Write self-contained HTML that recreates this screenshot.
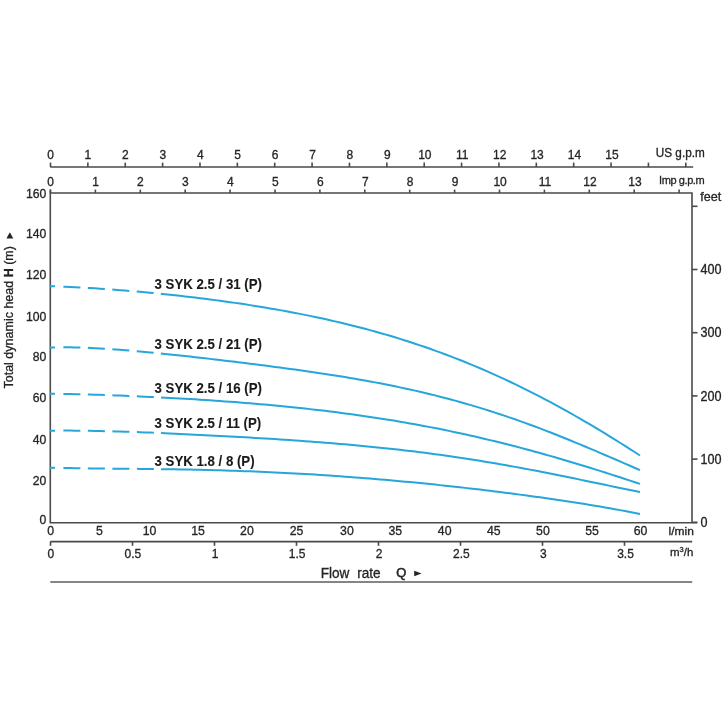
<!DOCTYPE html>
<html><head><meta charset="utf-8"><title>Pump performance curves 3 SYK</title>
<style>
html,body{margin:0;padding:0;background:#fff;}
svg{display:block;}
text{font-family:'Liberation Sans', Arial, sans-serif;fill:#252525;stroke:#252525;stroke-width:0.3px;font-size:12px;}
.m{text-anchor:middle;}
.e{text-anchor:end;}
.b{font-size:13.25px;font-weight:bold;fill:#1a1a1a;stroke:#1a1a1a;stroke-width:0.1px;}
</style></head><body>
<svg width="726" height="726" viewBox="0 0 726 726">
<rect width="726" height="726" fill="#fff"/>
<g stroke="#4a4a4a" stroke-width="1.6" fill="none">
<line x1="50.3" y1="167" x2="693.2" y2="167"/>
<line x1="50.50" y1="162.6" x2="50.50" y2="167"/>
<line x1="87.87" y1="162.6" x2="87.87" y2="167"/>
<line x1="125.24" y1="162.6" x2="125.24" y2="167"/>
<line x1="162.61" y1="162.6" x2="162.61" y2="167"/>
<line x1="199.98" y1="162.6" x2="199.98" y2="167"/>
<line x1="237.35" y1="162.6" x2="237.35" y2="167"/>
<line x1="274.72" y1="162.6" x2="274.72" y2="167"/>
<line x1="312.09" y1="162.6" x2="312.09" y2="167"/>
<line x1="349.46" y1="162.6" x2="349.46" y2="167"/>
<line x1="386.83" y1="162.6" x2="386.83" y2="167"/>
<line x1="424.20" y1="162.6" x2="424.20" y2="167"/>
<line x1="461.57" y1="162.6" x2="461.57" y2="167"/>
<line x1="498.94" y1="162.6" x2="498.94" y2="167"/>
<line x1="536.31" y1="162.6" x2="536.31" y2="167"/>
<line x1="573.68" y1="162.6" x2="573.68" y2="167"/>
<line x1="611.05" y1="162.6" x2="611.05" y2="167"/>
<line x1="648.42" y1="162.6" x2="648.42" y2="167"/>
<line x1="685.79" y1="162.6" x2="685.79" y2="167"/>
<line x1="50.50" y1="189.6" x2="50.50" y2="193"/>
<line x1="95.40" y1="189.6" x2="95.40" y2="193"/>
<line x1="140.30" y1="189.6" x2="140.30" y2="193"/>
<line x1="185.20" y1="189.6" x2="185.20" y2="193"/>
<line x1="230.10" y1="189.6" x2="230.10" y2="193"/>
<line x1="275.00" y1="189.6" x2="275.00" y2="193"/>
<line x1="319.90" y1="189.6" x2="319.90" y2="193"/>
<line x1="364.80" y1="189.6" x2="364.80" y2="193"/>
<line x1="409.70" y1="189.6" x2="409.70" y2="193"/>
<line x1="454.60" y1="189.6" x2="454.60" y2="193"/>
<line x1="499.50" y1="189.6" x2="499.50" y2="193"/>
<line x1="544.40" y1="189.6" x2="544.40" y2="193"/>
<line x1="589.30" y1="189.6" x2="589.30" y2="193"/>
<line x1="634.20" y1="189.6" x2="634.20" y2="193"/>
<line x1="679.10" y1="189.6" x2="679.10" y2="193"/>
<path d="M50.3,193 H692 V522.7 M50.3,189.6 V522.7 H697.2"/>
<line x1="692" y1="522.30" x2="697.5" y2="522.30"/>
<line x1="692" y1="459.10" x2="697.5" y2="459.10"/>
<line x1="692" y1="395.90" x2="697.5" y2="395.90"/>
<line x1="692" y1="332.70" x2="697.5" y2="332.70"/>
<line x1="692" y1="269.50" x2="697.5" y2="269.50"/>
<line x1="692" y1="206.30" x2="697.5" y2="206.30"/>
<line x1="50.3" y1="541.6" x2="692.2" y2="541.6"/>
<line x1="50.50" y1="541.6" x2="50.50" y2="545.8"/>
<line x1="132.50" y1="541.6" x2="132.50" y2="545.8"/>
<line x1="214.50" y1="541.6" x2="214.50" y2="545.8"/>
<line x1="296.50" y1="541.6" x2="296.50" y2="545.8"/>
<line x1="378.50" y1="541.6" x2="378.50" y2="545.8"/>
<line x1="460.50" y1="541.6" x2="460.50" y2="545.8"/>
<line x1="542.50" y1="541.6" x2="542.50" y2="545.8"/>
<line x1="624.50" y1="541.6" x2="624.50" y2="545.8"/>
<line x1="50.3" y1="582.1" x2="692.2" y2="582.1" stroke="#858585" stroke-width="2"/>
</g>
<g style="filter:grayscale(1)">
<text transform="translate(50.50,158.60) scale(1,1.07)" class="m">0</text>
<text transform="translate(87.93,158.60) scale(1,1.07)" class="m">1</text>
<text transform="translate(125.36,158.60) scale(1,1.07)" class="m">2</text>
<text transform="translate(162.79,158.60) scale(1,1.07)" class="m">3</text>
<text transform="translate(200.22,158.60) scale(1,1.07)" class="m">4</text>
<text transform="translate(237.65,158.60) scale(1,1.07)" class="m">5</text>
<text transform="translate(275.08,158.60) scale(1,1.07)" class="m">6</text>
<text transform="translate(312.51,158.60) scale(1,1.07)" class="m">7</text>
<text transform="translate(349.94,158.60) scale(1,1.07)" class="m">8</text>
<text transform="translate(387.37,158.60) scale(1,1.07)" class="m">9</text>
<text transform="translate(424.80,158.60) scale(1,1.07)" class="m">10</text>
<text transform="translate(462.23,158.60) scale(1,1.07)" class="m">11</text>
<text transform="translate(499.66,158.60) scale(1,1.07)" class="m">12</text>
<text transform="translate(537.09,158.60) scale(1,1.07)" class="m">13</text>
<text transform="translate(574.52,158.60) scale(1,1.07)" class="m">14</text>
<text transform="translate(611.95,158.60) scale(1,1.07)" class="m">15</text>
<text transform="translate(50.50,186.20) scale(1,1.07)" class="m">0</text>
<text transform="translate(95.46,186.20) scale(1,1.07)" class="m">1</text>
<text transform="translate(140.42,186.20) scale(1,1.07)" class="m">2</text>
<text transform="translate(185.38,186.20) scale(1,1.07)" class="m">3</text>
<text transform="translate(230.34,186.20) scale(1,1.07)" class="m">4</text>
<text transform="translate(275.30,186.20) scale(1,1.07)" class="m">5</text>
<text transform="translate(320.26,186.20) scale(1,1.07)" class="m">6</text>
<text transform="translate(365.22,186.20) scale(1,1.07)" class="m">7</text>
<text transform="translate(410.18,186.20) scale(1,1.07)" class="m">8</text>
<text transform="translate(455.14,186.20) scale(1,1.07)" class="m">9</text>
<text transform="translate(500.10,186.20) scale(1,1.07)" class="m">10</text>
<text transform="translate(545.06,186.20) scale(1,1.07)" class="m">11</text>
<text transform="translate(590.02,186.20) scale(1,1.07)" class="m">12</text>
<text transform="translate(634.98,186.20) scale(1,1.07)" class="m">13</text>
<text transform="translate(50.70,535.00) scale(1,1.07)" class="m" style="font-size:12.3px;">0</text>
<text transform="translate(99.40,535.00) scale(1,1.07)" class="m" style="font-size:12.3px;">5</text>
<text transform="translate(149.60,535.00) scale(1,1.07)" class="m" style="font-size:12.3px;">10</text>
<text transform="translate(198.00,535.00) scale(1,1.07)" class="m" style="font-size:12.3px;">15</text>
<text transform="translate(246.90,535.00) scale(1,1.07)" class="m" style="font-size:12.3px;">20</text>
<text transform="translate(296.50,535.00) scale(1,1.07)" class="m" style="font-size:12.3px;">25</text>
<text transform="translate(346.90,535.00) scale(1,1.07)" class="m" style="font-size:12.3px;">30</text>
<text transform="translate(395.30,535.00) scale(1,1.07)" class="m" style="font-size:12.3px;">35</text>
<text transform="translate(444.70,535.00) scale(1,1.07)" class="m" style="font-size:12.3px;">40</text>
<text transform="translate(493.80,535.00) scale(1,1.07)" class="m" style="font-size:12.3px;">45</text>
<text transform="translate(542.90,535.00) scale(1,1.07)" class="m" style="font-size:12.3px;">50</text>
<text transform="translate(592.00,535.00) scale(1,1.07)" class="m" style="font-size:12.3px;">55</text>
<text transform="translate(640.60,535.00) scale(1,1.07)" class="m" style="font-size:12.3px;">60</text>
<text transform="translate(50.80,558.00) scale(1,1.07)" class="m">0</text>
<text transform="translate(132.90,558.00) scale(1,1.07)" class="m">0.5</text>
<text transform="translate(215.00,558.00) scale(1,1.07)" class="m">1</text>
<text transform="translate(297.10,558.00) scale(1,1.07)" class="m">1.5</text>
<text transform="translate(379.20,558.00) scale(1,1.07)" class="m">2</text>
<text transform="translate(461.30,558.00) scale(1,1.07)" class="m">2.5</text>
<text transform="translate(543.40,558.00) scale(1,1.07)" class="m">3</text>
<text transform="translate(625.50,558.00) scale(1,1.07)" class="m">3.5</text>
<text transform="translate(46.40,524.40) scale(1,1.08)" class="e" style="font-size:12.2px;">0</text>
<text transform="translate(46.40,484.60) scale(1,1.08)" class="e" style="font-size:12.2px;">20</text>
<text transform="translate(46.40,443.50) scale(1,1.08)" class="e" style="font-size:12.2px;">40</text>
<text transform="translate(46.40,402.20) scale(1,1.08)" class="e" style="font-size:12.2px;">60</text>
<text transform="translate(46.40,361.20) scale(1,1.08)" class="e" style="font-size:12.2px;">80</text>
<text transform="translate(46.40,320.50) scale(1,1.08)" class="e" style="font-size:12.2px;">100</text>
<text transform="translate(46.40,279.40) scale(1,1.08)" class="e" style="font-size:12.2px;">120</text>
<text transform="translate(46.40,238.10) scale(1,1.08)" class="e" style="font-size:12.2px;">140</text>
<text transform="translate(46.40,197.80) scale(1,1.08)" class="e" style="font-size:12.2px;">160</text>
<text transform="translate(700.50,526.90) scale(1,1.1)" style="font-size:12.6px;">0</text>
<text transform="translate(700.50,463.70) scale(1,1.1)" style="font-size:12.6px;">100</text>
<text transform="translate(700.50,400.50) scale(1,1.1)" style="font-size:12.6px;">200</text>
<text transform="translate(700.50,337.30) scale(1,1.1)" style="font-size:12.6px;">300</text>
<text transform="translate(700.50,274.10) scale(1,1.1)" style="font-size:12.6px;">400</text>
<text transform="translate(700.30,200.90) scale(1,1.04)" style="font-size:12.6px;">feet</text>
<text transform="translate(655.80,157.00) scale(1,1.02)" style="font-size:11.75px;">US g.p.m</text>
<text transform="translate(659.00,184.30) scale(1,1.04)" style="font-size:11px;letter-spacing:-0.4px">Imp g.p.m</text>
<text transform="translate(668.6,535.0) scale(1.12,1)" style="font-size:10.7px">l/min</text>
<text x="670" y="555.7" style="font-size:11.5px">m<tspan style="font-size:7.5px" dy="-3.6">3</tspan><tspan dy="3.6">/h</tspan></text>
<text transform="translate(320.70,577.90) scale(1,1.06)" style="font-size:13.6px;word-spacing:4px">Flow rate</text>
<text x="396.20" y="577.30" style="font-size:12.9px;stroke-width:0.6px">Q</text>
<polygon points="414.2,570.7 414.2,576.3 421.6,573.5" fill="#252525"/>
<text transform="translate(12.5,388.5) rotate(-90) scale(1,1.04)" style="font-size:12.5px">Total dynamic head <tspan style="font-weight:bold">H</tspan> (m)</text>
<polygon points="6.4,238.4 13.3,238.4 9.85,232.2" fill="#252525"/>
</g>
<path d="M50.0,286.13 L55.0,286.30 L60.0,286.49 L65.0,286.70 L70.0,286.93 L75.0,287.17 L80.0,287.44 L85.0,287.72 L90.0,288.02 L95.0,288.33 L100.0,288.66 L105.0,289.01 L110.0,289.37 L115.0,289.74 L120.0,290.13 L125.0,290.54 L130.0,290.95 L135.0,291.38 L140.0,291.83 L145.0,292.29 L150.0,292.76 L155.0,293.24 L160.0,293.74 L165.0,294.25 L170.0,294.77 L175.0,295.31 L180.0,295.86 L185.0,296.43 L190.0,297.01 L195.0,297.60 L200.0,298.21 L205.0,298.83 L210.0,299.46 L215.0,300.12 L220.0,300.78 L225.0,301.47 L230.0,302.17 L235.0,302.88 L240.0,303.61 L245.0,304.36 L250.0,305.13 L255.0,305.92 L260.0,306.72 L265.0,307.54 L270.0,308.39 L275.0,309.25 L280.0,310.13 L285.0,311.04 L290.0,311.96 L295.0,312.91 L300.0,313.88 L305.0,314.88 L310.0,315.89 L315.0,316.93 L320.0,318.00 L325.0,319.09 L330.0,320.21 L335.0,321.35 L340.0,322.52 L345.0,323.72 L350.0,324.95 L355.0,326.20 L360.0,327.49 L365.0,328.80 L370.0,330.14 L375.0,331.52 L380.0,332.92 L385.0,334.36 L390.0,335.83 L395.0,337.33 L400.0,338.87 L405.0,340.44 L410.0,342.04 L415.0,343.68 L420.0,345.35 L425.0,347.05 L430.0,348.80 L435.0,350.58 L440.0,352.39 L445.0,354.24 L450.0,356.13 L455.0,358.06 L460.0,360.02 L465.0,362.03 L470.0,364.07 L475.0,366.14 L480.0,368.26 L485.0,370.41 L490.0,372.61 L495.0,374.84 L500.0,377.11 L505.0,379.42 L510.0,381.77 L515.0,384.16 L520.0,386.58 L525.0,389.05 L530.0,391.55 L535.0,394.09 L540.0,396.67 L545.0,399.28 L550.0,401.94 L555.0,404.63 L560.0,407.36 L565.0,410.12 L570.0,412.92 L575.0,415.75 L580.0,418.62 L585.0,421.53 L590.0,424.46 L595.0,427.43 L600.0,430.43 L605.0,433.47 L610.0,436.53 L615.0,439.62 L620.0,442.75 L625.0,445.90 L630.0,449.07 L635.0,452.27 L640.0,455.50" fill="none" stroke="#26a6da" stroke-width="2" stroke-dasharray="5 8.4 17 7.5 17 7.5 17 7.5 17 7.2 2000"/>
<path d="M50.0,347.50 L55.0,347.39 L60.0,347.33 L65.0,347.32 L70.0,347.35 L75.0,347.44 L80.0,347.56 L85.0,347.72 L90.0,347.92 L95.0,348.16 L100.0,348.42 L105.0,348.72 L110.0,349.04 L115.0,349.39 L120.0,349.76 L125.0,350.16 L130.0,350.57 L135.0,351.00 L140.0,351.45 L145.0,351.91 L150.0,352.39 L155.0,352.88 L160.0,353.38 L165.0,353.90 L170.0,354.42 L175.0,354.95 L180.0,355.49 L185.0,356.04 L190.0,356.60 L195.0,357.16 L200.0,357.73 L205.0,358.30 L210.0,358.88 L215.0,359.47 L220.0,360.06 L225.0,360.65 L230.0,361.25 L235.0,361.85 L240.0,362.46 L245.0,363.08 L250.0,363.70 L255.0,364.33 L260.0,364.96 L265.0,365.60 L270.0,366.24 L275.0,366.90 L280.0,367.56 L285.0,368.22 L290.0,368.90 L295.0,369.59 L300.0,370.28 L305.0,370.99 L310.0,371.71 L315.0,372.44 L320.0,373.18 L325.0,373.94 L330.0,374.70 L335.0,375.49 L340.0,376.29 L345.0,377.10 L350.0,377.93 L355.0,378.78 L360.0,379.65 L365.0,380.54 L370.0,381.45 L375.0,382.38 L380.0,383.33 L385.0,384.30 L390.0,385.29 L395.0,386.31 L400.0,387.36 L405.0,388.43 L410.0,389.52 L415.0,390.64 L420.0,391.79 L425.0,392.97 L430.0,394.17 L435.0,395.40 L440.0,396.66 L445.0,397.96 L450.0,399.28 L455.0,400.63 L460.0,402.02 L465.0,403.43 L470.0,404.88 L475.0,406.35 L480.0,407.86 L485.0,409.41 L490.0,410.98 L495.0,412.58 L500.0,414.22 L505.0,415.89 L510.0,417.59 L515.0,419.32 L520.0,421.08 L525.0,422.87 L530.0,424.69 L535.0,426.54 L540.0,428.42 L545.0,430.33 L550.0,432.26 L555.0,434.22 L560.0,436.21 L565.0,438.21 L570.0,440.24 L575.0,442.30 L580.0,444.37 L585.0,446.46 L590.0,448.56 L595.0,450.69 L600.0,452.82 L605.0,454.97 L610.0,457.12 L615.0,459.28 L620.0,461.45 L625.0,463.62 L630.0,465.79 L635.0,467.96 L640.0,470.12" fill="none" stroke="#26a6da" stroke-width="2" stroke-dasharray="5 8.4 17 7.5 17 7.5 17 7.5 17 7.2 2000"/>
<path d="M50.0,393.68 L55.0,393.76 L60.0,393.84 L65.0,393.93 L70.0,394.04 L75.0,394.15 L80.0,394.27 L85.0,394.41 L90.0,394.55 L95.0,394.70 L100.0,394.86 L105.0,395.02 L110.0,395.20 L115.0,395.38 L120.0,395.57 L125.0,395.77 L130.0,395.98 L135.0,396.19 L140.0,396.41 L145.0,396.64 L150.0,396.88 L155.0,397.12 L160.0,397.37 L165.0,397.63 L170.0,397.90 L175.0,398.17 L180.0,398.46 L185.0,398.75 L190.0,399.05 L195.0,399.35 L200.0,399.67 L205.0,399.99 L210.0,400.32 L215.0,400.67 L220.0,401.02 L225.0,401.38 L230.0,401.74 L235.0,402.12 L240.0,402.51 L245.0,402.91 L250.0,403.32 L255.0,403.74 L260.0,404.17 L265.0,404.61 L270.0,405.06 L275.0,405.52 L280.0,406.00 L285.0,406.49 L290.0,406.99 L295.0,407.50 L300.0,408.02 L305.0,408.56 L310.0,409.12 L315.0,409.68 L320.0,410.26 L325.0,410.86 L330.0,411.47 L335.0,412.09 L340.0,412.73 L345.0,413.39 L350.0,414.06 L355.0,414.74 L360.0,415.45 L365.0,416.16 L370.0,416.90 L375.0,417.65 L380.0,418.42 L385.0,419.21 L390.0,420.02 L395.0,420.84 L400.0,421.68 L405.0,422.54 L410.0,423.42 L415.0,424.32 L420.0,425.23 L425.0,426.17 L430.0,427.12 L435.0,428.10 L440.0,429.09 L445.0,430.10 L450.0,431.13 L455.0,432.19 L460.0,433.26 L465.0,434.35 L470.0,435.46 L475.0,436.59 L480.0,437.74 L485.0,438.91 L490.0,440.10 L495.0,441.31 L500.0,442.54 L505.0,443.79 L510.0,445.06 L515.0,446.34 L520.0,447.65 L525.0,448.97 L530.0,450.32 L535.0,451.68 L540.0,453.06 L545.0,454.46 L550.0,455.88 L555.0,457.31 L560.0,458.76 L565.0,460.23 L570.0,461.71 L575.0,463.21 L580.0,464.72 L585.0,466.25 L590.0,467.80 L595.0,469.35 L600.0,470.92 L605.0,472.51 L610.0,474.10 L615.0,475.71 L620.0,477.32 L625.0,478.95 L630.0,480.58 L635.0,482.23 L640.0,483.88" fill="none" stroke="#26a6da" stroke-width="2" stroke-dasharray="5 8.4 17 7.5 17 7.5 17 7.5 17 7.2 2000"/>
<path d="M50.0,430.70 L55.0,430.65 L60.0,430.62 L65.0,430.61 L70.0,430.62 L75.0,430.65 L80.0,430.69 L85.0,430.75 L90.0,430.83 L95.0,430.92 L100.0,431.02 L105.0,431.14 L110.0,431.27 L115.0,431.41 L120.0,431.56 L125.0,431.71 L130.0,431.88 L135.0,432.05 L140.0,432.24 L145.0,432.43 L150.0,432.62 L155.0,432.83 L160.0,433.03 L165.0,433.25 L170.0,433.47 L175.0,433.69 L180.0,433.92 L185.0,434.16 L190.0,434.39 L195.0,434.64 L200.0,434.88 L205.0,435.14 L210.0,435.39 L215.0,435.65 L220.0,435.91 L225.0,436.18 L230.0,436.45 L235.0,436.73 L240.0,437.01 L245.0,437.30 L250.0,437.59 L255.0,437.88 L260.0,438.19 L265.0,438.49 L270.0,438.80 L275.0,439.12 L280.0,439.44 L285.0,439.77 L290.0,440.11 L295.0,440.45 L300.0,440.80 L305.0,441.16 L310.0,441.53 L315.0,441.90 L320.0,442.29 L325.0,442.68 L330.0,443.08 L335.0,443.49 L340.0,443.91 L345.0,444.34 L350.0,444.78 L355.0,445.23 L360.0,445.69 L365.0,446.17 L370.0,446.65 L375.0,447.15 L380.0,447.66 L385.0,448.19 L390.0,448.72 L395.0,449.27 L400.0,449.84 L405.0,450.41 L410.0,451.00 L415.0,451.61 L420.0,452.23 L425.0,452.86 L430.0,453.51 L435.0,454.18 L440.0,454.85 L445.0,455.55 L450.0,456.26 L455.0,456.98 L460.0,457.72 L465.0,458.48 L470.0,459.25 L475.0,460.03 L480.0,460.84 L485.0,461.65 L490.0,462.48 L495.0,463.33 L500.0,464.19 L505.0,465.07 L510.0,465.95 L515.0,466.86 L520.0,467.77 L525.0,468.70 L530.0,469.64 L535.0,470.60 L540.0,471.56 L545.0,472.54 L550.0,473.53 L555.0,474.52 L560.0,475.53 L565.0,476.54 L570.0,477.56 L575.0,478.59 L580.0,479.62 L585.0,480.66 L590.0,481.71 L595.0,482.75 L600.0,483.80 L605.0,484.85 L610.0,485.89 L615.0,486.94 L620.0,487.98 L625.0,489.02 L630.0,490.05 L635.0,491.07 L640.0,492.09" fill="none" stroke="#26a6da" stroke-width="2" stroke-dasharray="5 8.4 17 7.5 17 7.5 17 7.5 17 7.2 2000"/>
<path d="M50.0,467.68 L55.0,467.80 L60.0,467.91 L65.0,468.01 L70.0,468.10 L75.0,468.18 L80.0,468.26 L85.0,468.33 L90.0,468.39 L95.0,468.45 L100.0,468.51 L105.0,468.56 L110.0,468.61 L115.0,468.66 L120.0,468.71 L125.0,468.76 L130.0,468.80 L135.0,468.85 L140.0,468.91 L145.0,468.96 L150.0,469.02 L155.0,469.08 L160.0,469.14 L165.0,469.21 L170.0,469.28 L175.0,469.36 L180.0,469.44 L185.0,469.53 L190.0,469.62 L195.0,469.73 L200.0,469.83 L205.0,469.95 L210.0,470.07 L215.0,470.20 L220.0,470.34 L225.0,470.48 L230.0,470.64 L235.0,470.80 L240.0,470.97 L245.0,471.15 L250.0,471.34 L255.0,471.53 L260.0,471.74 L265.0,471.95 L270.0,472.17 L275.0,472.41 L280.0,472.65 L285.0,472.90 L290.0,473.16 L295.0,473.43 L300.0,473.71 L305.0,474.00 L310.0,474.29 L315.0,474.60 L320.0,474.91 L325.0,475.24 L330.0,475.57 L335.0,475.92 L340.0,476.27 L345.0,476.63 L350.0,477.00 L355.0,477.38 L360.0,477.77 L365.0,478.16 L370.0,478.57 L375.0,478.98 L380.0,479.41 L385.0,479.84 L390.0,480.28 L395.0,480.72 L400.0,481.18 L405.0,481.65 L410.0,482.12 L415.0,482.60 L420.0,483.09 L425.0,483.59 L430.0,484.10 L435.0,484.61 L440.0,485.13 L445.0,485.66 L450.0,486.20 L455.0,486.75 L460.0,487.30 L465.0,487.87 L470.0,488.44 L475.0,489.02 L480.0,489.60 L485.0,490.20 L490.0,490.80 L495.0,491.42 L500.0,492.04 L505.0,492.67 L510.0,493.31 L515.0,493.96 L520.0,494.62 L525.0,495.28 L530.0,495.96 L535.0,496.65 L540.0,497.34 L545.0,498.05 L550.0,498.77 L555.0,499.49 L560.0,500.23 L565.0,500.98 L570.0,501.75 L575.0,502.52 L580.0,503.31 L585.0,504.11 L590.0,504.92 L595.0,505.75 L600.0,506.59 L605.0,507.45 L610.0,508.33 L615.0,509.21 L620.0,510.12 L625.0,511.04 L630.0,511.99 L635.0,512.94 L640.0,513.92" fill="none" stroke="#26a6da" stroke-width="2" stroke-dasharray="5 8.4 17 7.5 17 7.5 17 7.5 17 7.2 2000"/>
<g style="filter:grayscale(1)">
<text transform="translate(154.50,288.60) scale(1,1.08)" class="b">3 SYK 2.5 / 31 (P)</text>
<text transform="translate(154.50,348.50) scale(1,1.08)" class="b">3 SYK 2.5 / 21 (P)</text>
<text transform="translate(154.50,392.50) scale(1,1.08)" class="b">3 SYK 2.5 / 16 (P)</text>
<text transform="translate(154.50,428.00) scale(1,1.08)" class="b">3 SYK 2.5 / 11 (P)</text>
<text transform="translate(154.50,466.00) scale(1,1.08)" class="b">3 SYK 1.8 / 8 (P)</text>
</g>
</svg></body></html>
